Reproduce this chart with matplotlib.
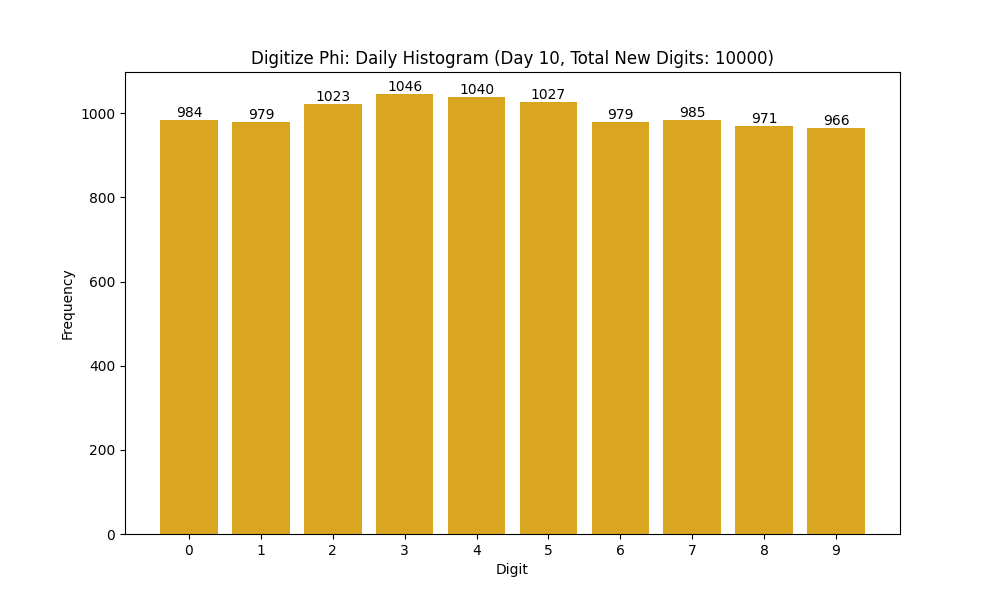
import matplotlib
matplotlib.use("Agg")
import matplotlib.pyplot as plt

digits = [0, 1, 2, 3, 4, 5, 6, 7, 8, 9]
counts = [984, 979, 1023, 1046, 1040, 1027, 979, 985, 971, 966]
day = 10

fig, ax = plt.subplots(figsize=(10, 6), dpi=100)
bars = ax.bar(digits, counts, color="goldenrod")
ax.bar_label(bars)
ax.set_xticks(digits)
ax.set_xlabel("Digit")
ax.set_ylabel("Frequency")
ax.set_title(f"Digitize Phi: Daily Histogram (Day {day}, Total New Digits: {sum(counts)})")
fig.savefig("out.png")
